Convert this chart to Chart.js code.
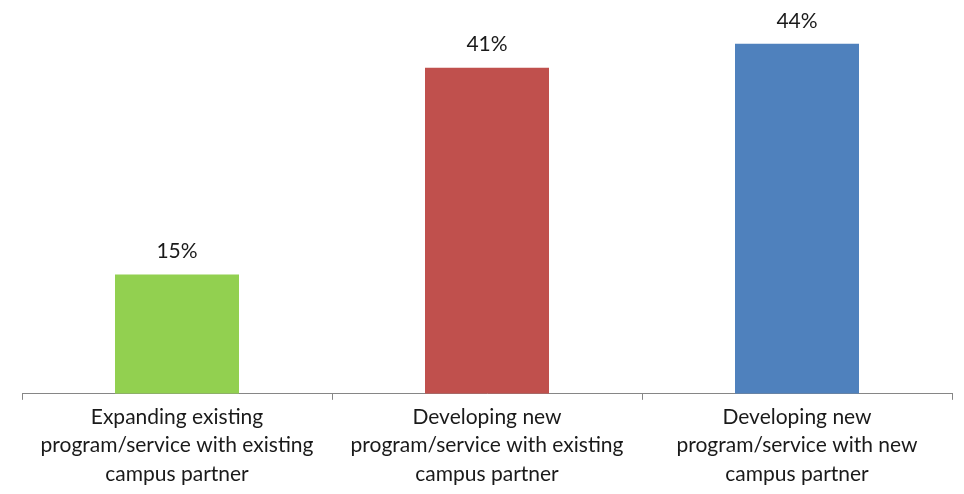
<!DOCTYPE html>
<html>
<head>
<meta charset="utf-8">
<script src="https://cdn.jsdelivr.net/npm/chart.js@4"></script>
<style>
  html, body { margin: 0; padding: 0; background: #ffffff; }
  #wrap { width: 964px; height: 494px; }
</style>
</head>
<body>
<div id="wrap"><canvas id="chart" width="964" height="494"></canvas></div>
<script>
const categories = [
    ["Expanding existing", "program/service with existing", "campus partner"],
    ["Developing new", "program/service with existing", "campus partner"],
    ["Developing new", "program/service with new", "campus partner"]
];
const shares = [15, 41, 44];
const barColors = ["#92d050", "#c0504d", "#4f81bd"];

const fontFamily = "Lato, 'Open Sans', sans-serif";

const valueLabels = {
    id: 'value_labels',
    afterDatasetsDraw: (chart) => {
        const ctx = chart.ctx;
        const meta = chart.getDatasetMeta(0);
        ctx.save();
        ctx.fillStyle = "#1a1a1a";
        ctx.font = `21px ${fontFamily}`;
        ctx.textAlign = "center";
        ctx.textBaseline = "middle";
        meta.data.forEach((bar, i) => {
            ctx.fillText(`${shares[i]}%`, bar.x, bar.y - 23);
        });
        ctx.restore();
    }
};

const chart = new Chart(
    document.getElementById('chart'),
    {
        type: 'bar',
        plugins: [valueLabels],
        data: {
            labels: categories,
            datasets: [{
                data: shares,
                backgroundColor: barColors,
                borderWidth: 0,
                barPercentage: 0.4,
                categoryPercentage: 1
            }]
        },
        options: {
            responsive: false,
            animation: false,
            layout: {
                padding: { left: 22, right: 12, top: 0, bottom: 2.5 }
            },
            plugins: {
                legend: { display: false },
                tooltip: { enabled: false }
            },
            scales: {
                x: {
                    offset: true,
                    grid: {
                        offset: true,
                        drawOnChartArea: false,
                        drawTicks: true,
                        tickLength: 6,
                        color: "#868686"
                    },
                    border: { color: "#868686", width: 1 },
                    ticks: {
                        color: "#1a1a1a",
                        padding: 3,
                        maxRotation: 0,
                        autoSkip: false,
                        font: { family: fontFamily, size: 21, lineHeight: 1.36 }
                    }
                },
                y: {
                    display: false,
                    min: 0,
                    max: 49.5
                }
            }
        }
    }
);
</script>
</body>
</html>
